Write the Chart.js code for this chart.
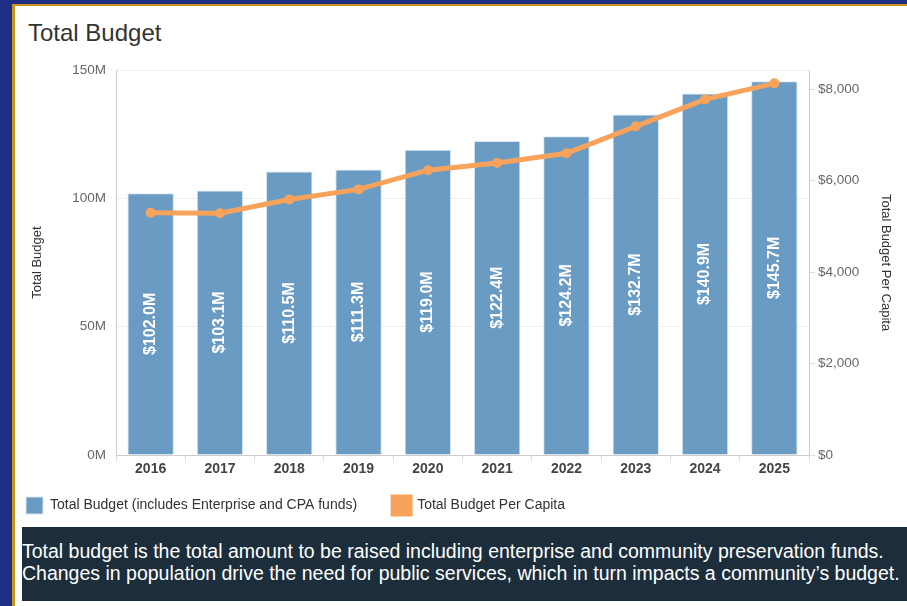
<!DOCTYPE html>
<html>
<head>
<meta charset="utf-8">
<script src="https://cdn.jsdelivr.net/npm/chart.js@4"></script>
<style>
  html, body { margin: 0; padding: 0; }
  body { width: 907px; height: 606px; background: #1f2e85; overflow: hidden; font-family: "Liberation Sans", Arial, sans-serif; }
  #panel { position: absolute; left: 12px; top: 4px; right: 0; bottom: 0; background: #fff; border-left: 3px solid #c9961a; border-top: 2px solid #c9961a; }
  #title { position: absolute; left: 28px; top: 19px; font-size: 24px; color: #333; line-height: 28px; }
  #wrap { position: absolute; left: 16px; top: 52px; width: 891px; height: 492px; }
  #note { position: absolute; left: 22px; top: 527px; width: 885px; height: 74px; background: #1c2d3b; color: #fff; font-size: 19.5px; line-height: 22px; box-sizing: border-box; padding-top: 13px; white-space: nowrap; }
</style>
</head>
<body>
<div id="panel"></div>
<div id="title">Total Budget</div>
<div id="wrap"><canvas id="budgetChart"></canvas></div>
<div id="note">Total budget is the total amount to be raised including enterprise and community preservation funds.<br>Changes in population drive the need for public services, which in turn impacts a community’s budget.</div>
<script>
const years = ["2016", "2017", "2018", "2019", "2020", "2021", "2022", "2023", "2024", "2025"];
// total budget, in millions of dollars
const totalBudget = [102.0, 103.1, 110.5, 111.3, 119.0, 122.4, 124.2, 132.7, 140.9, 145.7];
// per capita, dollars
const perCapita = [5300, 5290, 5590, 5810, 6230, 6390, 6600, 7190, 7780, 8130];
const capTicks = [0, 2000, 4000, 6000, 8000];

const barColor = "#6a9bc3";
const lineColor = "#f7a35c";
const fontFamily = "'Liberation Sans', Arial, sans-serif";

// white rotated value labels in the middle of each bar
const barLabels = {
  id: "barLabels",
  afterLayout(chart) {
    // legend sits closer to the axis and to the left edge than chart.js would put it
    const lg = chart.legend;
    lg.left -= 26;
    lg.right -= 26;
    lg.top -= 20;
    lg.bottom -= 20;
  },
  afterDatasetsDraw(chart) {
    const meta = chart.getDatasetMeta(1);
    const ctx = chart.ctx;
    ctx.save();
    ctx.fillStyle = "#fff";
    ctx.font = "bold 16px " + fontFamily;
    ctx.textAlign = "center";
    ctx.textBaseline = "middle";
    meta.data.forEach((bar, i) => {
      const mid = (bar.y + bar.base) / 2;
      ctx.save();
      ctx.translate(bar.x, mid);
      ctx.rotate(-Math.PI / 2);
      ctx.fillText("$" + totalBudget[i].toFixed(1) + "M", 0, 0);
      ctx.restore();
    });
    ctx.restore();
  }
};

const ctx = document.getElementById("budgetChart").getContext("2d");
new Chart(ctx, {
  data: {
    labels: years,
    datasets: [
      {
        type: "line",
        label: "Total Budget Per Capita",
        data: perCapita,
        yAxisID: "yCap",
        borderColor: lineColor,
        backgroundColor: lineColor,
        borderWidth: 5,
        pointRadius: 5,
        pointBackgroundColor: lineColor,
        pointBorderWidth: 0,
        tension: 0,
        order: 1
      },
      {
        type: "bar",
        label: "Total Budget (includes Enterprise and CPA funds)",
        data: totalBudget.map((v) => v * 1e6),
        yAxisID: "y",
        backgroundColor: barColor,
        borderColor: "#d8e5f0",
        borderWidth: 1,
        barPercentage: 0.67,
        categoryPercentage: 1,
        order: 2
      }
    ]
  },
  options: {
    responsive: true,
    maintainAspectRatio: false,
    animation: false,
    layout: { padding: { top: 17, left: 0, right: 0, bottom: 0 } },
    plugins: {
      tooltip: { enabled: false },
      legend: {
        position: "bottom",
        align: "start",
        labels: {
          boxWidth: 17,
          boxHeight: 17,
          padding: 36,
          color: "#333",
          font: { size: 14, family: fontFamily },
          sort: (a, b) => b.datasetIndex - a.datasetIndex
        }
      }
    },
    scales: {
      x: {
        offset: true,
        grid: { offset: true, drawOnChartArea: false, color: "#ddd", tickLength: 6 },
        border: { color: "#ccc" },
        ticks: { color: "#444", font: { size: 14, weight: "bold", family: fontFamily }, padding: 0 },
        afterFit: (s) => { s.height = 26; }
      },
      y: {
        position: "left",
        min: 0,
        max: 150e6,
        ticks: {
          stepSize: 50e6,
          color: "#666",
          padding: 10,
          font: { size: 13.5, family: fontFamily },
          callback: (v) => v / 1e6 + "M"
        },
        grid: { color: "#f0f0f0", drawTicks: false },
        border: { color: "#ccc" },
        title: { display: true, text: "Total Budget", color: "#333", padding: { top: 14, bottom: 0 }, font: { size: 13, family: fontFamily } },
        afterFit: (s) => { s.width = 100; }
      },
      yCap: {
        position: "right",
        min: 0,
        max: 8420,
        afterBuildTicks: (s) => { s.ticks = capTicks.map((v) => ({ value: v })); },
        ticks: {
          color: "#666",
          padding: 3,
          font: { size: 13.5, family: fontFamily },
          callback: (v) => "$" + v.toLocaleString("en-US")
        },
        grid: { drawOnChartArea: false, color: "#ddd", tickLength: 6 },
        border: { color: "#ccc" },
        title: { display: true, text: "Total Budget Per Capita", color: "#333", padding: { top: 14, bottom: 0 }, font: { size: 13, family: fontFamily } },
        afterFit: (s) => { s.width = 98; }
      }
    }
  },
  plugins: [barLabels]
});
</script>
</body>
</html>
